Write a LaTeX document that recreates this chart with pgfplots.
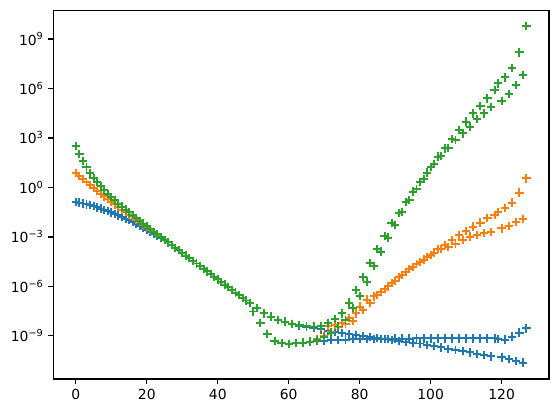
\documentclass[border=0pt]{standalone}
\usepackage{fontspec}
\setmainfont{DejaVu Sans}
\usepackage{pgfplots}
\pgfplotsset{compat=1.18}
\definecolor{c0}{HTML}{1F77B4}
\definecolor{c1}{HTML}{FF7F0E}
\definecolor{c2}{HTML}{2CA02C}
\pgfplotsset{plusmarks/.style={color=#1, only marks, mark=+, mark size=3pt, line width=1.4pt, mark options={solid, line width=1.4pt, draw=#1}}}
\begin{document}
\begin{tikzpicture}
\useasboundingbox (-38.4pt,-24.5pt) rectangle (364.1pt,272.9pt);
\begin{axis}[
  at={(0,0)}, anchor=south west,
  scale only axis, width=356.9pt, height=265.5pt,
  ymode=log,
  xmin=-6.35, xmax=133.35,
  ymin=2.45e-12, ymax=5.5e10,
  xtick={0,20,...,120},
  ytick={1e-9,1e-6,1e-3,1,1e3,1e6,1e9},
  yticklabels={10\textsuperscript{−9},10\textsuperscript{−6},10\textsuperscript{−3},10\textsuperscript{0},10\textsuperscript{3},10\textsuperscript{6},10\textsuperscript{9}},
  xminorticks=false, yminorticks=false,
  tick pos=left, tick align=outside,
  major tick length=3.5pt,
  tick style={black, line width=0.8pt},
  axis line style={black, line width=0.8pt},
  tick label style={font=\fontsize{10}{12}\selectfont},
  /pgf/number format/assume math mode=true,
]
\addplot[plusmarks=c0] coordinates {
(0,1.32e-1)(1,1.20e-1)(2,1.07e-1)(3,9.33e-2)(4,8.32e-2)(5,7.24e-2)(6,6.17e-2)(7,5.25e-2)(8,4.47e-2)(9,3.72e-2)
(10,3.09e-2)(11,2.51e-2)(12,2.04e-2)(13,1.62e-2)(14,1.29e-2)(15,1.02e-2)(16,7.94e-3)(17,6.17e-3)(18,4.68e-3)(19,3.55e-3)
(20,2.69e-3)(21,2.0e-3)(22,1.48e-3)(23,1.10e-3)(24,8.32e-4)(25,6.46e-4)(26,4.68e-4)(27,3.24e-4)(28,2.24e-4)(29,1.55e-4)
(30,1.07e-4)(31,7.41e-5)(32,5.13e-5)(33,3.55e-5)(34,2.45e-5)(35,1.70e-5)(36,1.17e-5)(37,8.13e-6)(38,5.62e-6)(39,3.89e-6)
(40,2.69e-6)(41,1.86e-6)(42,1.29e-6)(43,8.91e-7)(44,6.17e-7)(45,4.27e-7)(46,2.95e-7)(47,2.04e-7)(48,1.41e-7)(49,9.77e-8)
(50,3.02e-8)(51,4.79e-8)(52,5.89e-9)(53,2.34e-8)(54,1.32e-9)(55,1.48e-8)(56,5.01e-10)(57,9.33e-9)(58,3.63e-10)(59,7.41e-9)
(60,3.16e-10)(61,5.37e-9)(62,3.80e-10)(63,4.17e-9)(64,3.98e-10)(65,3.55e-9)(66,4.37e-10)(67,3.02e-9)(68,4.79e-10)(69,2.51e-9)
(70,5.13e-10)(71,2.09e-9)(72,5.50e-10)(73,1.78e-9)(74,5.75e-10)(75,1.51e-9)(76,6.03e-10)(77,1.32e-9)(78,6.31e-10)(79,1.15e-9)
(80,6.46e-10)(81,1.0e-9)(82,6.61e-10)(83,8.71e-10)(84,6.61e-10)(85,7.59e-10)(86,6.76e-10)(87,6.61e-10)(88,6.76e-10)(89,5.75e-10)
(90,6.92e-10)(91,5.01e-10)(92,6.92e-10)(93,4.47e-10)(94,6.92e-10)(95,3.98e-10)(96,7.08e-10)(97,3.47e-10)(98,7.08e-10)(99,2.82e-10)
(100,7.08e-10)(101,2.40e-10)(102,7.08e-10)(103,2.0e-10)(104,7.08e-10)(105,1.66e-10)(106,7.08e-10)(107,1.41e-10)(108,7.08e-10)(109,1.20e-10)
(110,7.08e-10)(111,1.0e-10)(112,7.08e-10)(113,8.32e-11)(114,7.08e-10)(115,6.92e-11)(116,7.08e-10)(117,5.75e-11)(118,7.08e-10)(119,6.61e-10)
(120,5.01e-11)(121,6.03e-10)(122,3.89e-11)(123,9.12e-10)(124,3.02e-11)(125,1.58e-9)(126,2.40e-11)(127,2.88e-9)
};
\addplot[plusmarks=c1] coordinates {
(0,7.24)(1,4.79)(2,3.16)(3,2.09)(4,1.38)(5,9.33e-1)(6,6.31e-1)(7,4.27e-1)(8,2.88e-1)(9,1.95e-1)
(10,1.35e-1)(11,9.33e-2)(12,6.46e-2)(13,4.47e-2)(14,3.16e-2)(15,2.19e-2)(16,1.55e-2)(17,1.10e-2)(18,7.76e-3)(19,5.50e-3)
(20,3.89e-3)(21,2.75e-3)(22,1.95e-3)(23,1.38e-3)(24,9.77e-4)(25,6.76e-4)(26,4.68e-4)(27,3.24e-4)(28,2.24e-4)(29,1.55e-4)
(30,1.07e-4)(31,7.41e-5)(32,5.13e-5)(33,3.55e-5)(34,2.45e-5)(35,1.70e-5)(36,1.17e-5)(37,8.13e-6)(38,5.62e-6)(39,3.89e-6)
(40,2.69e-6)(41,1.86e-6)(42,1.29e-6)(43,8.91e-7)(44,6.17e-7)(45,4.27e-7)(46,2.95e-7)(47,2.04e-7)(48,1.41e-7)(49,9.77e-8)
(50,3.02e-8)(51,4.79e-8)(52,5.89e-9)(53,2.34e-8)(54,1.32e-9)(55,1.48e-8)(56,5.01e-10)(57,9.33e-9)(58,3.63e-10)(59,7.41e-9)
(60,3.16e-10)(61,5.37e-9)(62,3.80e-10)(63,4.47e-9)(64,3.98e-10)(65,3.98e-9)(66,4.57e-10)(67,3.72e-9)(68,6.31e-10)(69,3.80e-9)
(70,1.0e-9)(71,4.17e-9)(72,1.78e-9)(73,4.47e-9)(74,3.55e-9)(75,6.31e-9)(76,5.62e-9)(77,1.17e-8)(78,7.94e-9)(79,2.34e-8)
(80,6.03e-8)(81,3.80e-8)(82,1.58e-7)(83,9.55e-8)(84,2.51e-7)(85,3.09e-7)(86,4.47e-7)(87,7.08e-7)(88,1.0e-6)(89,1.58e-6)
(90,2.24e-6)(91,3.55e-6)(92,5.01e-6)(93,7.59e-6)(94,1.12e-5)(95,1.58e-5)(96,2.24e-5)(97,3.02e-5)(98,4.27e-5)(99,6.03e-5)
(100,7.94e-5)(101,1.12e-4)(102,1.91e-4)(103,1.78e-4)(104,3.24e-4)(105,2.57e-4)(106,6.61e-4)(107,3.80e-4)(108,1.32e-3)(109,6.61e-4)
(110,2.40e-3)(111,1.05e-3)(112,4.27e-3)(113,1.32e-3)(114,7.41e-3)(115,1.66e-3)(116,1.35e-2)(117,2.09e-3)(118,2.14e-2)(119,3.39e-2)
(120,3.31e-3)(121,5.50e-2)(122,4.68e-3)(123,1.20e-1)(124,7.76e-3)(125,4.90e-1)(126,1.17e-2)(127,3.55)
};
\addplot[plusmarks=c2] coordinates {
(0,339)(1,107)(2,39.8)(3,16.6)(4,7.67)(5,3.85)(6,2.06)(7,1.16)(8,6.79e-1)(9,4.12e-1)
(10,2.56e-1)(11,1.63e-1)(12,1.05e-1)(13,6.90e-2)(14,4.57e-2)(15,3.05e-2)(16,2.06e-2)(17,1.39e-2)(18,9.44e-3)(19,6.44e-3)
(20,4.41e-3)(21,3.02e-3)(22,2.07e-3)(23,1.43e-3)(24,9.82e-4)(25,6.76e-4)(26,4.68e-4)(27,3.24e-4)(28,2.24e-4)(29,1.55e-4)
(30,1.07e-4)(31,7.41e-5)(32,5.13e-5)(33,3.55e-5)(34,2.45e-5)(35,1.70e-5)(36,1.17e-5)(37,8.13e-6)(38,5.62e-6)(39,3.89e-6)
(40,2.69e-6)(41,1.86e-6)(42,1.29e-6)(43,8.91e-7)(44,6.17e-7)(45,4.27e-7)(46,2.95e-7)(47,2.04e-7)(48,1.41e-7)(49,9.77e-8)
(50,3.02e-8)(51,4.79e-8)(52,5.89e-9)(53,2.34e-8)(54,1.32e-9)(55,1.48e-8)(56,5.01e-10)(57,9.33e-9)(58,3.63e-10)(59,7.41e-9)
(60,3.16e-10)(61,5.37e-9)(62,3.80e-10)(63,4.47e-9)(64,3.98e-10)(65,3.98e-9)(66,4.57e-10)(67,3.72e-9)(68,5.37e-10)(69,4.07e-9)
(70,8.32e-10)(71,5.89e-9)(72,1.58e-9)(73,1.02e-8)(74,3.72e-9)(75,2.34e-8)(76,9.33e-9)(77,1.05e-7)(78,5.01e-8)(79,6.17e-7)
(80,2.63e-7)(81,3.63e-6)(82,1.95e-6)(83,2.75e-5)(84,1.74e-5)(85,1.86e-4)(86,1.29e-4)(87,1.15e-3)(88,9.12e-4)(89,6.76e-3)
(90,5.37e-3)(91,2.95e-2)(92,3.39e-2)(93,1.32e-1)(94,1.66e-1)(95,5.62e-1)(96,7.94e-1)(97,2.24)(98,3.16)(99,7.94)
(100,18.2)(101,26.3)(102,74.1)(103,81.3)(104,234)(105,257)(106,871)(107,759)(108,3020)(109,1905)
(110,9772)(111,4898)(112,30900)(113,13490)(114,87100)(115,30900)(116,2.51e5)(117,7.24e4)(118,8.13e5)(119,2.04e6)
(120,1.74e5)(121,4.68e6)(122,4.68e5)(123,1.82e7)(124,1.62e6)(125,1.55e8)(126,6.61e6)(127,6.17e9)
};
\end{axis}
\end{tikzpicture}
\end{document}
